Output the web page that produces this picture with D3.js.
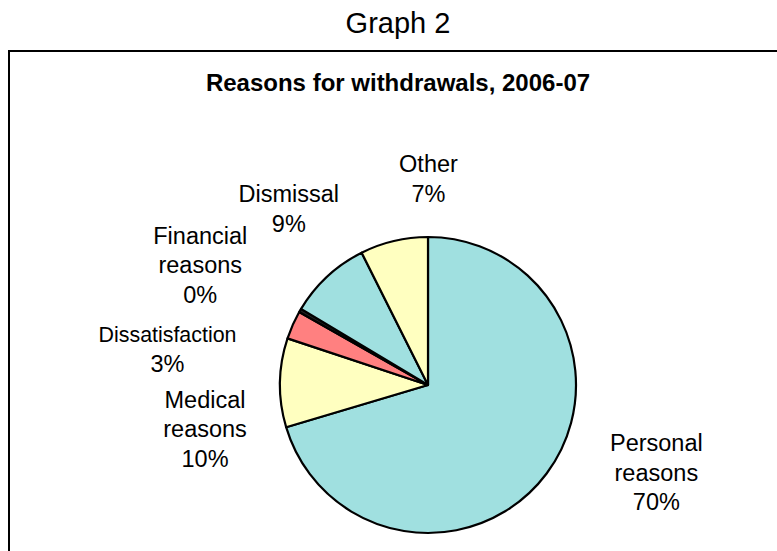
<!DOCTYPE html>
<html>
<head>
<meta charset="utf-8">
<script src="https://cdn.jsdelivr.net/npm/d3@7"></script>
<style>
  html, body { margin: 0; padding: 0; background: #fff; }
  svg { display: block; }
  text { font-family: "Liberation Sans", Arial, sans-serif; fill: #000; }
</style>
</head>
<body>
<svg id="chart" width="777" height="551"></svg>
<script>
// Withdrawal reasons, share of all withdrawals (%)
const reasons = ["Personal reasons", "Medical reasons", "Dissatisfaction", "Financial reasons", "Dismissal", "Other"];
const shares = [70.4, 9.7, 3.1, 0.4, 9.0, 7.4];
const sliceColors = ["#A0E0E0", "#FFFFC0", "#FF8080", "#202020", "#A0E0E0", "#FFFFC0"];

// Label placement: nudge from the centroid on the label ring
const labelNudge = [[56, -41], [-8, 47], [-64, 51], [-42, -12], [7, -19], [50, 3]];
// Font size of the category-name lines (the long single word is set smaller)
const nameSize = [23.5, 23.5, 21.4, 23.5, 23.5, 23.5];
const pctSize = 23.5;

const svg = d3.select("#chart");

// Page heading
svg.append("text")
  .attr("x", 398).attr("y", 33)
  .attr("text-anchor", "middle")
  .style("font-size", "29px")
  .text("Graph 2");

// Chart frame (runs past the right and bottom edges)
svg.append("rect")
  .attr("x", 9).attr("y", 51)
  .attr("width", 800).attr("height", 600)
  .attr("fill", "#fff")
  .attr("stroke", "#000")
  .attr("stroke-width", 2);

// Chart title
svg.append("text")
  .attr("x", 398).attr("y", 91)
  .attr("text-anchor", "middle")
  .style("font-size", "24px")
  .style("font-weight", "bold")
  .text("Reasons for withdrawals, 2006-07");

const cx = 428, cy = 385, R = 148;
const g = svg.append("g").attr("transform", `translate(${cx},${cy})`);

const pie = d3.pie().sort(null).value(d => d.value).startAngle(0).endAngle(2 * Math.PI);
const data = reasons.map((r, i) => ({ name: r, value: shares[i], color: sliceColors[i], i }));
const arcs = pie(data);

const arc = d3.arc().innerRadius(0).outerRadius(R);
const labelArc = d3.arc().innerRadius(215).outerRadius(215);

g.selectAll("path.slice")
  .data(arcs)
  .join("path")
  .attr("class", "slice")
  .attr("d", arc)
  .attr("fill", d => d.data.color)
  .attr("stroke", "#000")
  .attr("stroke-width", 2.2)
  .attr("stroke-linejoin", "round");

// Data labels: category name lines plus rounded percentage
const lineGap = 29.5;
arcs.forEach(a => {
  const i = a.data.i;
  const [lx, ly] = labelArc.centroid(a);
  const x = lx + labelNudge[i][0];
  const yMid = ly + labelNudge[i][1];
  const words = a.data.name.split(" ");
  const lines = (words.length > 1 ? [words[0], words.slice(1).join(" ")] : words)
    .map(s => ({ s, fs: nameSize[i] }));
  lines.push({ s: Math.round(a.data.value) + "%", fs: pctSize });
  const n = lines.length;
  const firstBase = yMid - (n - 1) * lineGap / 2 + pctSize * 0.716 / 2;
  const t = g.append("text").attr("text-anchor", "middle");
  lines.forEach((l, k) => {
    t.append("tspan")
      .attr("x", x)
      .attr("y", firstBase + k * lineGap)
      .style("font-size", l.fs + "px")
      .text(l.s);
  });
});
</script>
</body>
</html>
